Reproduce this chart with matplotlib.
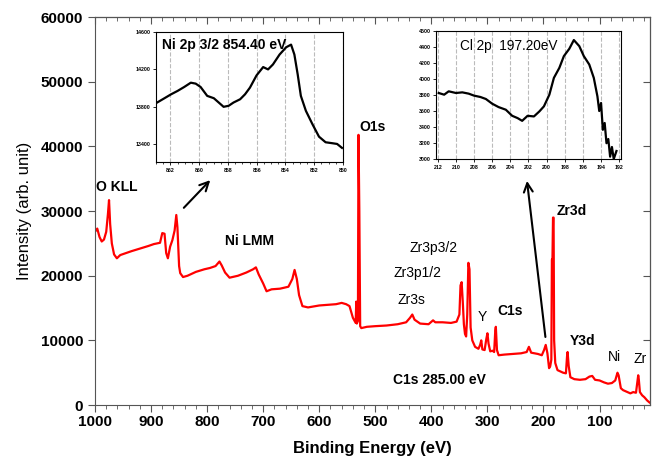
import numpy as np
import matplotlib
matplotlib.use("Agg")
import matplotlib.pyplot as plt
from matplotlib.ticker import MultipleLocator, NullFormatter

plt.rcParams['font.family'] = ['Liberation Sans', 'DejaVu Sans']

# survey spectrum
be = [1000, 996, 992, 988, 984, 980, 977, 975, 973, 970, 966, 961, 955, 945, 935, 920, 905, 895,
      884, 880, 876, 873, 870, 866, 862, 858, 855, 853, 850, 848, 843, 835, 820, 805, 795, 785,
      778, 774, 768, 760, 745, 730, 718, 713, 708, 700, 694, 685, 670, 655, 648, 644, 640, 636,
      630, 620, 600, 585, 570, 560, 552, 546, 540, 535, 534, 533, 531, 530, 528.5, 527, 525,
      515, 500, 480, 460, 445, 438, 434, 430, 420, 405, 397, 393, 380, 365, 355, 350, 348, 346,
      344, 342, 340, 338, 336, 334, 332, 330, 327, 322, 316, 313, 311, 309, 305, 302, 300, 298,
      295, 291, 288, 286, 285, 283, 280, 270, 255, 240, 230, 226, 222, 210, 203, 199, 196, 193,
      190, 188, 186, 185, 184, 183, 182, 181, 179, 175, 165, 160, 158, 157, 155, 152, 145, 135,
      125, 118, 113, 108, 100, 92, 85, 78, 72, 68, 66, 62, 58, 50, 45, 40, 35, 31, 30, 28, 24,
      20, 15, 11]
counts = [26800, 27300, 26000, 25300, 25600, 26800, 29500, 31700, 28000, 25000, 23300, 22700,
          23200, 23500, 23800, 24200, 24600, 24900, 25100, 26600, 26500, 23500, 22700, 24500,
          25500, 27000, 29400, 27500, 21500, 20400, 19800, 20000, 20600, 21000, 21200, 21500,
          22200, 21600, 20500, 19700, 20000, 20500, 21000, 21300, 20200, 18800, 17600, 17900,
          18000, 18300, 19500, 20900, 19500, 17000, 15300, 15100, 15400, 15500, 15600, 15800,
          15600, 15300, 13500, 12700, 16000, 12600, 13000, 41800, 30000, 12200, 11900, 12100,
          12200, 12300, 12500, 12800, 13500, 14000, 13200, 12600, 12500, 13100, 12800, 12800,
          12700, 12900, 14000, 18500, 19000, 16000, 12500, 11000, 10600, 14000, 22000, 21000,
          12000, 10000, 9000, 8700, 9300, 10000, 8600, 8500, 10200, 11100, 9500, 8300, 8400,
          8200, 11500, 12100, 8500, 7700, 7800, 7900, 8000, 8200, 9000, 8100, 7900, 7700, 8500,
          9300, 8000, 5700, 6000, 7000, 22500, 22500, 29000, 29000, 10000, 6500, 5400, 5000,
          4900, 7500, 8200, 6000, 4300, 4000, 3900, 4000, 4400, 4500, 3900, 3800, 3500, 3300,
          3400, 3800, 5000, 4600, 2600, 2300, 2000, 1800, 2000, 1900, 4600, 4000, 2000, 1500,
          1200, 700, 400]

# Ni 2p3/2 inset
ni_be = [862.92, 862.41, 861.95, 861.50, 861.04, 860.58, 860.24, 859.90, 859.44, 858.98, 858.64,
         858.30, 857.95, 857.61, 857.15, 856.81, 856.47, 856.01, 855.55, 855.21, 854.87, 854.41,
         853.95, 853.61, 853.38, 853.15, 852.93, 852.58, 852.13, 851.67, 851.21, 850.75, 850.41,
         850.07]
ni_counts = [13846, 13892, 13934, 13970, 14012, 14058, 14048, 14012, 13917, 13892, 13846, 13800,
             13811, 13846, 13881, 13934, 14005, 14136, 14225, 14200, 14253, 14359, 14437, 14465,
             14359, 14147, 13917, 13757, 13616, 13481, 13421, 13411, 13403, 13361]

# Cl 2p inset
cl_be = [211.9, 211.3, 210.8, 210.0, 209.3, 208.6, 208.0, 207.3, 206.7, 206.0, 205.3, 204.5,
         203.8, 203.2, 202.7, 202.1, 201.4, 200.8, 200.3, 199.7, 199.2, 198.6, 198.1, 197.5,
         197.0, 196.4, 195.9, 195.3, 194.8, 194.4, 194.2, 194.0, 193.8, 193.6, 193.4, 193.2,
         193.0, 192.8, 192.6, 192.3]
cl_counts = [3825, 3804, 3846, 3825, 3833, 3817, 3792, 3775, 3750, 3691, 3649, 3616, 3540, 3511,
             3477, 3540, 3532, 3595, 3658, 3804, 4014, 4139, 4286, 4378, 4487, 4411, 4286, 4181,
             4014, 3783, 3600, 3700, 3365, 3450, 3197, 3250, 3029, 3150, 3000, 3100]

peak_labels = [("O KLL", 998, 33700, 'bold', 'left'), ("Ni LMM", 724, 25300, 'bold', 'center'),
               ("O1s", 529, 43000, 'bold', 'left'), ("Zr3p3/2", 396, 24300, 'normal', 'center'),
               ("Zr3p1/2", 424, 20400, 'normal', 'center'), ("Zr3s", 435, 16200, 'normal', 'center'),
               ("Y", 310, 13600, 'normal', 'center'), ("C1s", 260, 14500, 'bold', 'center'),
               ("Zr3d", 150, 30000, 'bold', 'center'), ("Y3d", 130, 9900, 'bold', 'center'),
               ("Ni", 73, 7400, 'normal', 'center'), ("Zr", 27, 7100, 'normal', 'center'),
               ("C1s 285.00 eV", 385, 3900, 'bold', 'center')]

fig = plt.figure(figsize=(6.53, 4.65), dpi=100)
ax = fig.add_axes([0.1455, 0.129, 0.8499, 0.834])
ax.plot(be, counts, color='#ff0000', lw=1.6)
ax.set_xlim(1000, 10)
ax.set_ylim(0, 60000)
ax.set_xticks(np.arange(1000, 50, -100))
ax.xaxis.set_minor_locator(MultipleLocator(20))
ax.yaxis.set_major_locator(MultipleLocator(10000))
for s in ax.spines.values():
    s.set_color('#555555')
ax.tick_params(axis='both', which='both', color='#555555', labelsize=11, direction='out')
ax.tick_params(axis='x', which='major', length=5, pad=2)
ax.tick_params(axis='x', which='minor', length=3)
ax.tick_params(axis='y', which='major', length=5)
for lab in ax.get_xticklabels() + ax.get_yticklabels():
    lab.set_fontweight('bold')
ax.set_xlabel("Binding Energy (eV)", fontsize=12, fontweight='bold', labelpad=9)
ax.set_ylabel("Intensity (arb. unit)", fontsize=12, labelpad=6)

# inward ticks on top and right
top = ax.secondary_xaxis('top')
top.set_xticks(np.arange(1000, 50, -100))
top.xaxis.set_minor_locator(MultipleLocator(20))
top.xaxis.set_major_formatter(NullFormatter())
top.tick_params(which='both', direction='in', color='#555555')
top.tick_params(which='major', length=5)
top.tick_params(which='minor', length=3)
right = ax.secondary_yaxis('right')
right.yaxis.set_major_locator(MultipleLocator(10000))
right.yaxis.set_major_formatter(NullFormatter())
right.tick_params(direction='in', length=5, color='#555555')

for txt, x, y, w, ha in peak_labels:
    ax.text(x, y, txt, fontsize=10, fontweight=w, ha=ha, va='center')

ax.annotate('', xy=(791, 35100), xytext=(845, 30200),
            arrowprops=dict(arrowstyle='->', color='black', lw=1.5, mutation_scale=16))
ax.annotate('', xy=(230, 35100), xytext=(196, 10100),
            arrowprops=dict(arrowstyle='->', color='black', lw=1.5, mutation_scale=16))

# inset 1: Ni 2p
ax1 = fig.add_axes([156 / 653, 1 - 162 / 465, 187 / 653, 130 / 465])
ax1.plot(ni_be, ni_counts, color='black', lw=1.6)
ax1.set_xlim(863.0, 850.0)
ax1.set_ylim(13210, 14600)
ax1.set_xticks(np.arange(862, 849, -2))
ax1.xaxis.set_minor_locator(MultipleLocator(0.5))
ax1.set_yticks([13400, 13800, 14200, 14600])
ax1.grid(axis='x', ls='--', color='#bbbbbb', lw=0.8)
ax1.tick_params(labelsize=3.8, length=2, width=0.6, pad=2)
ax1.tick_params(which='minor', length=1.2, width=0.5)
for lab in ax1.get_xticklabels() + ax1.get_yticklabels():
    lab.set_fontweight('bold')
ax1.text(0.03, 0.9, "Ni 2p 3/2 854.40 eV", transform=ax1.transAxes, fontsize=10,
         fontweight='bold', va='center')

# inset 2: Cl 2p
ax2 = fig.add_axes([436 / 653, 1 - 159 / 465, 185 / 653, 128 / 465])
ax2.plot(cl_be, cl_counts, color='black', lw=1.6)
ax2.set_xlim(212.2, 191.8)
ax2.set_ylim(3000, 4600)
ax2.set_xticks(np.arange(212, 191, -2))
ax2.set_yticks(np.arange(3000, 4601, 200))
ax2.grid(axis='x', ls='--', color='#bbbbbb', lw=0.8)
ax2.tick_params(labelsize=3.8, length=2, width=0.6, pad=2)
for lab in ax2.get_xticklabels() + ax2.get_yticklabels():
    lab.set_fontweight('bold')
ax2.text(0.13, 0.88, "Cl 2p  197.20eV", transform=ax2.transAxes, fontsize=9.8, va='center')

fig.savefig("out.png", dpi=100)
